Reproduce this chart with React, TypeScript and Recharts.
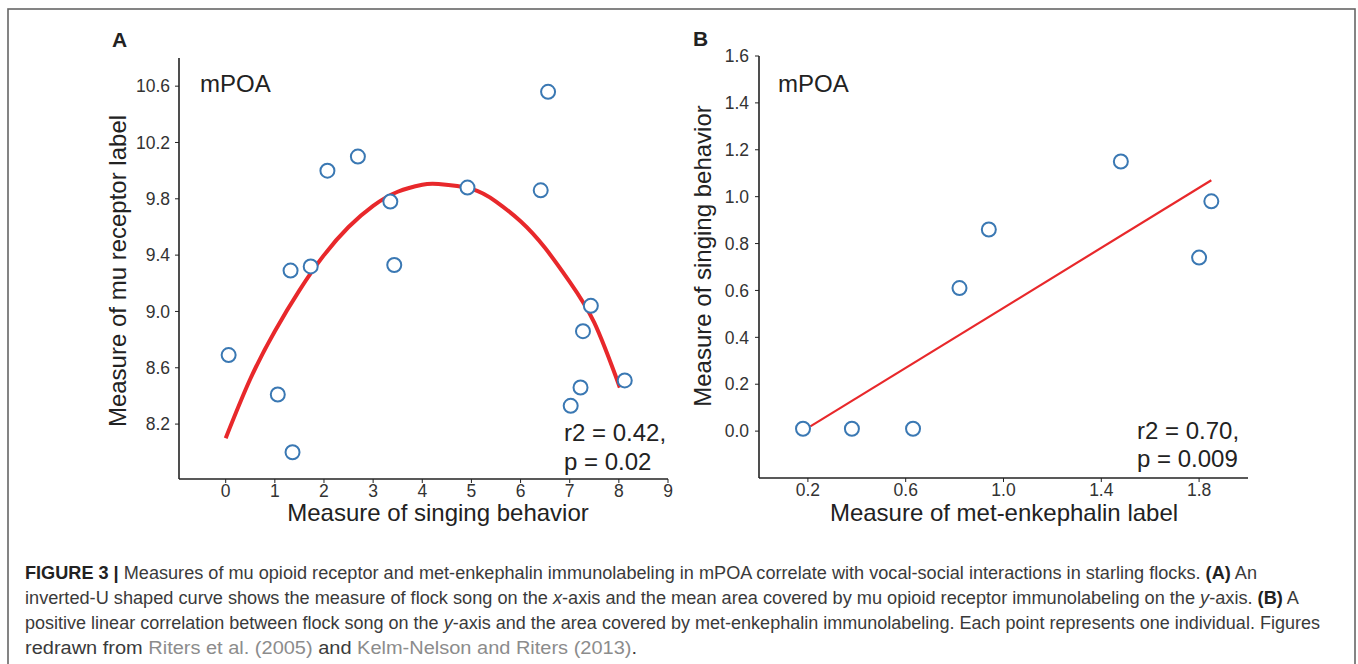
import React from "react";
import { ComposedChart, Scatter, Line, XAxis, YAxis, Label } from "recharts";

// Panel A: flock song (x) vs mu opioid receptor label (y)
const songA = [0.06, 1.06, 1.32, 1.36, 1.73, 2.07, 2.69, 3.35, 3.43, 4.92, 6.41, 6.56, 7.02, 7.22, 7.27, 7.43, 8.12];
const muLabelA = [8.69, 8.41, 9.29, 8.0, 9.32, 10.0, 10.1, 9.78, 9.33, 9.88, 9.86, 10.56, 8.33, 8.46, 8.86, 9.04, 8.51];
// inverted-U fit
const fitAx = [0, 0.5, 1, 1.5, 2, 2.5, 3, 3.5, 4, 4.33, 5, 5.5, 6, 6.5, 7, 7.5, 8.02];
const fitAy = [8.1, 8.52, 8.86, 9.15, 9.4, 9.6, 9.75, 9.85, 9.9, 9.905, 9.87, 9.78, 9.64, 9.45, 9.21, 8.92, 8.46];
const ticksAx = [0, 1, 2, 3, 4, 5, 6, 7, 8, 9];
const ticksAy = [8.2, 8.6, 9.0, 9.4, 9.8, 10.2, 10.6];

// Panel B: met-enkephalin label (x) vs singing behavior (y)
const enkB = [0.18, 0.38, 0.63, 0.82, 0.94, 1.48, 1.8, 1.85];
const singB = [0.01, 0.01, 0.01, 0.61, 0.86, 1.15, 0.74, 0.98];
const fitBx = [0.21, 1.85];
const fitBy = [0.02, 1.07];
const ticksBx = [0.2, 0.6, 1.0, 1.4, 1.8];
const ticksBy = [0.0, 0.2, 0.4, 0.6, 0.8, 1.0, 1.2, 1.4, 1.6];

const zip = (xs: number[], ys: number[]) => xs.map((x, i) => ({ x, y: ys[i] }));

const FONT = "'Liberation Sans', Arial, Helvetica, sans-serif";
const INK = "#222";
const RED = "#e8282b";
const BLUE = "#3a78b3";

const tickStyle = { fontSize: 17.5, fill: "#333", fontFamily: FONT };

const Ring = (p: any) => (
  <circle cx={p.cx} cy={p.cy} r={7} fill="#fff" stroke={BLUE} strokeWidth={2} />
);

type PanelProps = {
  width: number;
  height: number;
  margin: { top: number; right: number; bottom: number; left: number };
  yWidth: number;
  xHeight: number;
  xDomain: [number, number];
  yDomain: [number, number];
  xTicks: number[];
  yTicks: number[];
  xFmt: (v: number) => string;
  points: { x: number; y: number }[];
  fit: { x: number; y: number }[];
  fitWidth: number;
  fitType: "natural" | "linear";
  xTitle: string;
  xTitlePos: [number, number];
  yTitle: string;
  yTitlePos: [number, number];
  xTickMargin: number;
  yTickMargin: number;
};

const Panel = (p: PanelProps) => (
  <ComposedChart width={p.width} height={p.height} margin={p.margin}>
    <XAxis
      type="number"
      dataKey="x"
      domain={p.xDomain}
      allowDataOverflow
      ticks={p.xTicks}
      tickFormatter={p.xFmt}
      height={p.xHeight}
      tick={tickStyle}
      tickSize={4}
      tickMargin={p.xTickMargin}
      axisLine={{ stroke: INK, strokeWidth: 1.6 }}
      tickLine={{ stroke: INK, strokeWidth: 1 }}
    >
      <Label
        content={() => (
          <text
            x={p.xTitlePos[0]}
            y={p.xTitlePos[1]}
            textAnchor="middle"
            fontSize={24}
            fill="#222"
            fontFamily={FONT}
          >
            {p.xTitle}
          </text>
        )}
      />
    </XAxis>
    <YAxis
      type="number"
      dataKey="y"
      domain={p.yDomain}
      allowDataOverflow
      ticks={p.yTicks}
      tickFormatter={(v: number) => v.toFixed(1)}
      width={p.yWidth}
      tick={tickStyle}
      tickSize={4}
      tickMargin={p.yTickMargin}
      axisLine={{ stroke: INK, strokeWidth: 1.6 }}
      tickLine={{ stroke: INK, strokeWidth: 1 }}
    >
      <Label
        content={() => (
          <text
            x={p.yTitlePos[0]}
            y={p.yTitlePos[1]}
            transform={`rotate(-90 ${p.yTitlePos[0]} ${p.yTitlePos[1]})`}
            textAnchor="middle"
            fontSize={24}
            fill="#222"
            fontFamily={FONT}
          >
            {p.yTitle}
          </text>
        )}
      />
    </YAxis>
    <Line
      data={p.fit}
      dataKey="y"
      type={p.fitType}
      stroke={RED}
      strokeWidth={p.fitWidth}
      dot={false}
      activeDot={false}
      isAnimationActive={false}
    />
    <Scatter data={p.points} dataKey="y" shape={Ring} isAnimationActive={false} />
  </ComposedChart>
);

const txt = { fontFamily: FONT, fill: "#222" };
const capText = { fontFamily: FONT, fontSize: 17.5, fill: "#3a3a3a" };
const GRAY = "#8c8c8c";

export default function App() {
  return (
    <div style={{ position: "relative", width: 1358, height: 664, background: "#fff", overflow: "hidden" }}>
      <style>{`body{margin:0;background:#fff}`}</style>
      <div style={{ position: "absolute", left: 0, top: 0 }}>
        <Panel
          width={680}
          height={540}
          margin={{ top: 58, right: 12, bottom: 0, left: 0 }}
          yWidth={179}
          xHeight={61}
          xDomain={[-0.95, 9]}
          yDomain={[7.81, 10.8]}
          xTicks={ticksAx}
          yTicks={ticksAy}
          xFmt={(v) => String(v)}
          points={zip(songA, muLabelA)}
          fit={zip(fitAx, fitAy)}
          fitWidth={4}
          fitType="natural"
          xTitle="Measure of singing behavior"
          xTitlePos={[438, 521]}
          yTitle="Measure of mu receptor label"
          yTitlePos={[125.5, 271]}
          xTickMargin={2}
          yTickMargin={5}
        />
      </div>
      <div style={{ position: "absolute", left: 680, top: 0 }}>
        <Panel
          width={678}
          height={540}
          margin={{ top: 56, right: 110, bottom: 0, left: 0 }}
          yWidth={79}
          xHeight={62}
          xDomain={[0, 2]}
          yDomain={[-0.2, 1.6]}
          xTicks={ticksBx}
          yTicks={ticksBy}
          xFmt={(v) => v.toFixed(1)}
          points={zip(enkB, singB)}
          fit={zip(fitBx, fitBy)}
          fitWidth={2.2}
          fitType="linear"
          xTitle="Measure of met-enkephalin label"
          xTitlePos={[324, 521]}
          yTitle="Measure of singing behavior"
          yTitlePos={[31, 256]}
          xTickMargin={2}
          yTickMargin={6}
        />
      </div>
      <svg
        width={1358}
        height={664}
        style={{ position: "absolute", left: 0, top: 0, pointerEvents: "none" }}
      >
        <rect x={8} y={9} width={1347} height={700} fill="none" stroke="#666" strokeWidth={1.6} />
        <text x={112} y={46.5} fontSize={21} fontWeight="bold" {...txt}>A</text>
        <text x={693} y={45.5} fontSize={21} fontWeight="bold" {...txt}>B</text>
        <text x={200} y={91.5} fontSize={24} {...txt}>mPOA</text>
        <text x={778} y={91.5} fontSize={24} {...txt}>mPOA</text>
        <text x={564} y={441} fontSize={24} {...txt}>r2 = 0.42,</text>
        <text x={564} y={470} fontSize={24} {...txt}>p = 0.02</text>
        <text x={1137} y={439} fontSize={24} {...txt}>r2 = 0.70,</text>
        <text x={1137} y={467} fontSize={24} {...txt}>p = 0.009</text>

        <text x={25} y={579} {...capText} textLength={1232} lengthAdjust="spacingAndGlyphs">
          <tspan fontWeight="bold" fill="#222">FIGURE 3 |</tspan> Measures of mu opioid receptor and
          met-enkephalin immunolabeling in mPOA correlate with vocal-social interactions in starling
          flocks. <tspan fontWeight="bold" fill="#222">(A)</tspan> An
        </text>
        <text x={25} y={604} {...capText} textLength={1274} lengthAdjust="spacingAndGlyphs">
          inverted-U shaped curve shows the measure of flock song on the <tspan fontStyle="italic">x</tspan>-axis
          and the mean area covered by mu opioid receptor immunolabeling on the{" "}
          <tspan fontStyle="italic">y</tspan>-axis. <tspan fontWeight="bold" fill="#222">(B)</tspan> A
        </text>
        <text x={25} y={629} {...capText} textLength={1295} lengthAdjust="spacingAndGlyphs">
          positive linear correlation between flock song on the <tspan fontStyle="italic">y</tspan>-axis
          and the area covered by met-enkephalin immunolabeling. Each point represents one individual.
          Figures
        </text>
        <text x={25} y={654} {...capText} textLength={612} lengthAdjust="spacingAndGlyphs">
          redrawn from <tspan fill={GRAY}>Riters et al. (2005)</tspan> and{" "}
          <tspan fill={GRAY}>Kelm-Nelson and Riters (2013)</tspan>.
        </text>
      </svg>
    </div>
  );
}
